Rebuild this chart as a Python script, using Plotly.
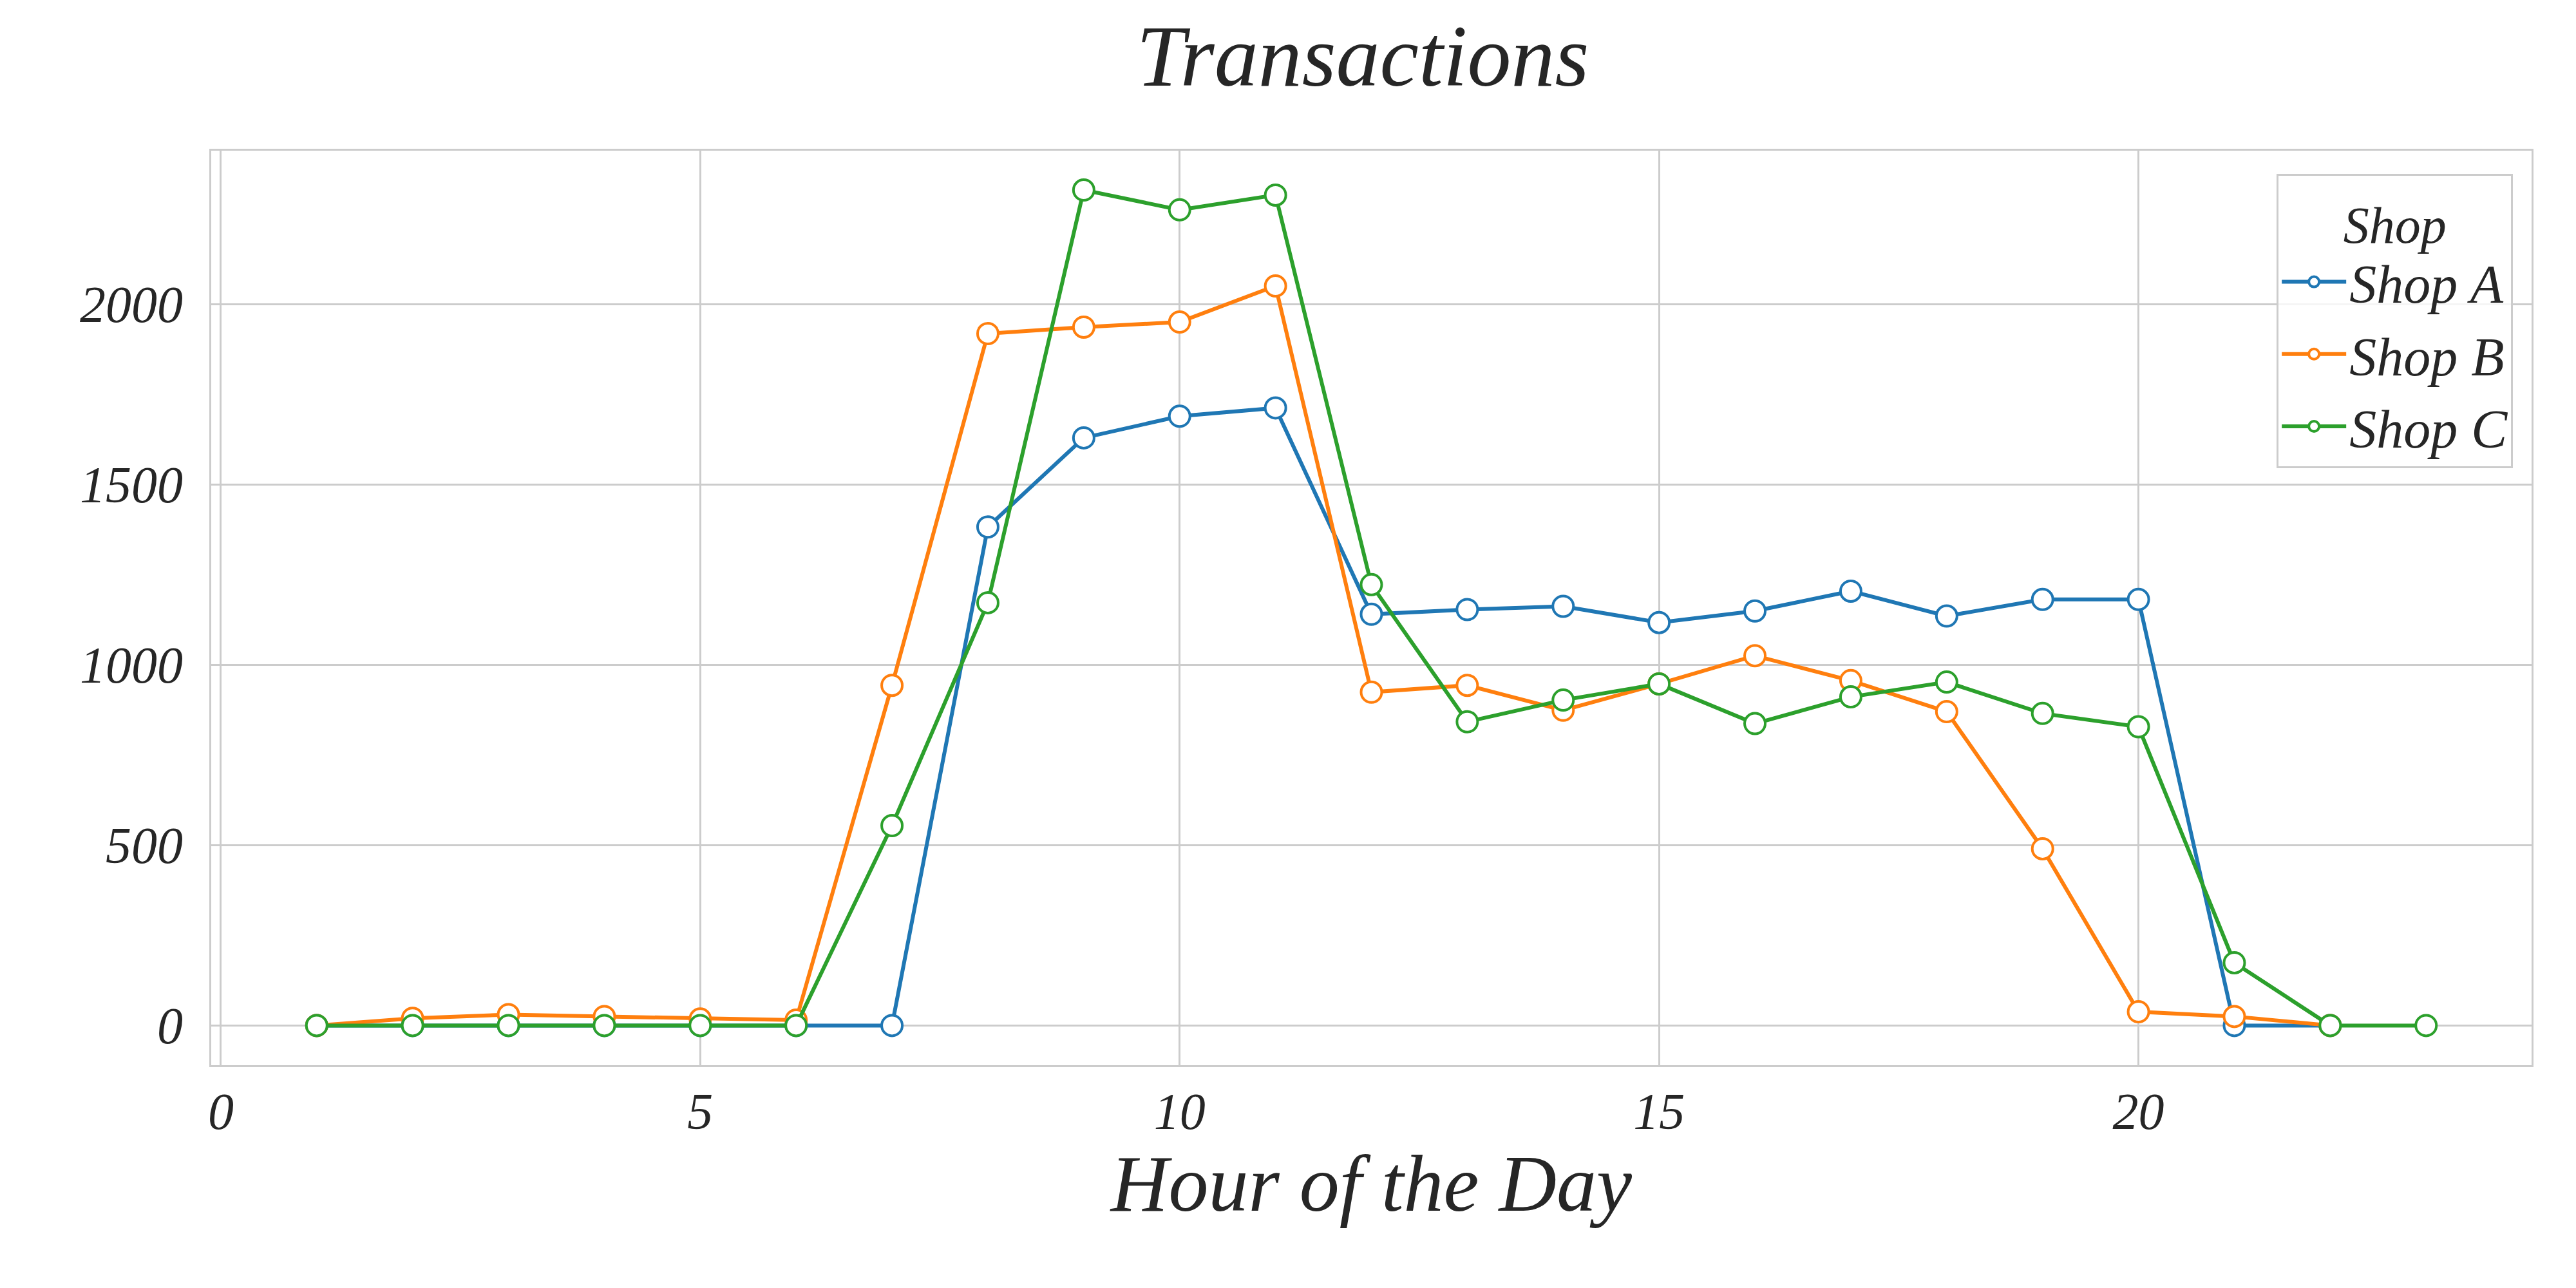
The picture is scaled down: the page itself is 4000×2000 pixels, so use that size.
import plotly.graph_objects as go

hours_a = list(range(1, 23))
shop_a = [0, 0, 0, 0, 0, 0, 0, 1382, 1629, 1689, 1712, 1140, 1153, 1162, 1117, 1149, 1204, 1135, 1181, 1181, 0, 0]
hours_b = list(range(1, 23))
shop_b = [0, 20, 30, 25, 18, 15, 943, 1918, 1936, 1950, 2050, 924, 943, 874, 947, 1025, 956, 870, 490, 38, 25, 0]
hours_c = list(range(1, 24))
shop_c = [0, 0, 0, 0, 0, 0, 554, 1172, 2316, 2261, 2302, 1222, 842, 902, 947, 837, 911, 952, 865, 828, 174, 0, 0]

series = [
    ("Shop A", hours_a, shop_a, "#1f77b4"),
    ("Shop B", hours_b, shop_b, "#ff7f0e"),
    ("Shop C", hours_c, shop_c, "#2ca02c"),
]

fig = go.Figure()
for name, x, y, color in series:
    fig.add_trace(go.Scatter(
        x=x, y=y, name="<i>" + name + "</i>", mode="lines+markers",
        line=dict(color=color, width=6),
        marker=dict(size=32, color="white", line=dict(color=color, width=4)),
    ))

font = "Liberation Serif"
fig.update_layout(
    width=4000, height=2000,
    paper_bgcolor="white", plot_bgcolor="white",
    margin=dict(l=320, r=77, t=226, b=354),
    font=dict(family=font, size=84, color="#262626"),
    title=dict(text="<i>Transactions</i>", x=0.527, xanchor="center", y=0.985, yanchor="top",
               font=dict(size=136, family=font)),
    legend=dict(
        title=dict(text="<i>Shop</i>", side="top center", font=dict(size=80)),
        x=0.992, xanchor="right", y=0.975, yanchor="top",
        bordercolor="#cccccc", borderwidth=3, bgcolor="rgba(255,255,255,0.8)",
        font=dict(size=84, family=font), itemwidth=100,
    ),
)
axis_common = dict(showgrid=True, gridcolor="#cccccc", gridwidth=3, zeroline=False,
                   showline=True, linecolor="#cccccc", linewidth=3, mirror=True,
                   ticks="", tickfont=dict(size=80, family=font))
fig.update_xaxes(range=[-0.1, 24.1], tickvals=[0, 5, 10, 15, 20],
                 ticktext=["<i>%d</i>" % v for v in [0, 5, 10, 15, 20]],
                 title=dict(text="<i>Hour of the Day</i>", font=dict(size=124, family=font), standoff=20),
                 **axis_common)
fig.update_yaxes(range=[-110, 2425], tickvals=[0, 500, 1000, 1500, 2000],
                 ticktext=["<i>%d</i>" % v for v in [0, 500, 1000, 1500, 2000]],
                 ticklabelstandoff=25, **axis_common)

fig.write_html("out.html")
